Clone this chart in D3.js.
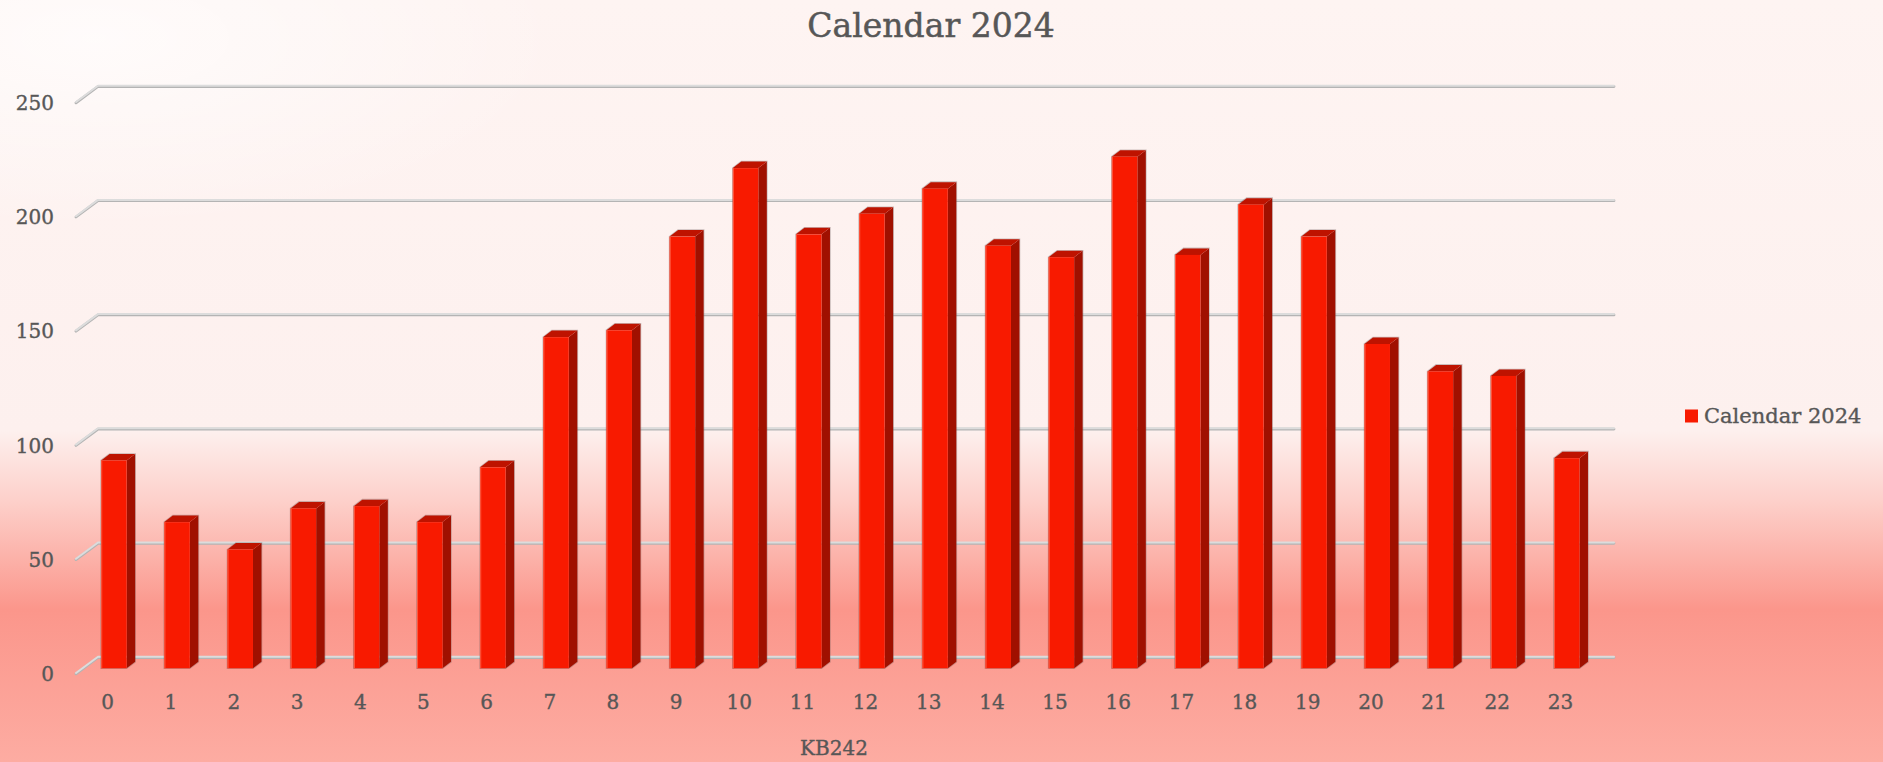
<!DOCTYPE html>
<html>
<head>
<meta charset="utf-8">
<script src="https://cdn.jsdelivr.net/npm/d3@7"></script>
<style>
  html, body { margin: 0; padding: 0; background: #fef3f1; }
  svg { display: block; }
  text { font-family: "DejaVu Serif", serif; fill: #575757; stroke: #575757; stroke-width: 0.35px; }
</style>
</head>
<body>
<script>
const categories = ["0","1","2","3","4","5","6","7","8","9","10","11","12","13","14","15","16","17","18","19","20","21","22","23"];
const values = [91,64,52,70,71,64,88,145,148,189,219,190,199,210,185,180,224,181,203,189,142,130,128,92];
const yTicks = [0,50,100,150,200,250];
const seriesName = "Calendar 2024";
const chartTitle = "Calendar 2024";
const xAxisTitle = "KB242";

const W = 1883, H = 762;
const svg = d3.select("body").append("svg").attr("width", W).attr("height", H);
const defs = svg.append("defs");

const bg = defs.append("linearGradient").attr("id","bg").attr("x1",0).attr("y1",0).attr("x2",0).attr("y2",1);
[[0,"#fef4f2"],[0.565,"#fdf0ee"],[0.66,"#fdcfc9"],[0.8,"#fb968b"],[1,"#fdaca2"]].forEach(s=>bg.append("stop").attr("offset",s[0]).attr("stop-color",s[1]));
const glow = defs.append("radialGradient").attr("id","glow").attr("cx",0.05).attr("cy",0.05).attr("r",0.25);
glow.append("stop").attr("offset",0).attr("stop-color","#ffffff").attr("stop-opacity",0.7);
glow.append("stop").attr("offset",1).attr("stop-color","#ffffff").attr("stop-opacity",0);

svg.append("rect").attr("width",W).attr("height",H).attr("fill","url(#bg)");
svg.append("rect").attr("width",W).attr("height",H).attr("fill","url(#glow)");

// back-wall scales
const xb = d3.scaleBand().domain(categories).range([98, 1614]).padding(0);
const yb = d3.scaleLinear().domain([0, 250]).range([656.7, 85.7]);

// depth offsets relative to back wall
const floorFront = {dx:-22, dy:16.3};
const barFront = {dx:-15.7, dy:11.6};
const barBack = {dx:-7.2, dy:5.1};
const barW = xb.bandwidth() * 0.404;

// gridlines
const grid = svg.append("g");
yTicks.forEach(t => {
  const y = yb(t);
  const pts = [[98 + floorFront.dx, y + floorFront.dy],[98, y],[1614, y]];
  grid.append("path").attr("d", d3.line()(pts.map(p=>[p[0], p[1]+0.8]))).attr("fill","none")
    .attr("stroke","#b4b4b4").attr("stroke-width",2.8).attr("stroke-linecap","round").attr("stroke-linejoin","round");
  grid.append("path").attr("d", d3.line()(pts)).attr("fill","none")
    .attr("stroke","#dcdcdc").attr("stroke-width",2).attr("stroke-linecap","round").attr("stroke-linejoin","round");
});

// bars
const bars = svg.append("g");
categories.forEach((c, i) => {
  const v = values[i];
  const cx = xb(c) + xb.bandwidth()/2;
  const fx0 = cx - barW/2 + barFront.dx, fx1 = cx + barW/2 + barFront.dx;
  const fyTop = yb(v) + barFront.dy, fyBot = yb(0) + barFront.dy;
  const ddx = barBack.dx - barFront.dx, ddy = barBack.dy - barFront.dy;
  bars.append("path")
    .attr("d", `M${fx0},${fyBot} L${fx0},${fyTop} L${fx0+ddx},${fyTop+ddy} L${fx1+ddx},${fyTop+ddy} L${fx1+ddx},${fyBot+ddy} L${fx1},${fyBot} Z`)
    .attr("fill","none").attr("stroke","rgba(110,90,90,0.35)").attr("stroke-width",1.6);
  bars.append("path")
    .attr("d", `M${fx1},${fyTop} L${fx1+ddx},${fyTop+ddy} L${fx1+ddx},${fyBot+ddy} L${fx1},${fyBot} Z`)
    .attr("fill","#a01000");
  bars.append("path")
    .attr("d", `M${fx0},${fyTop} L${fx0+ddx},${fyTop+ddy} L${fx1+ddx},${fyTop+ddy} L${fx1},${fyTop} Z`)
    .attr("fill","#be1300");
  bars.append("rect").attr("x",fx0).attr("y",fyTop).attr("width",fx1-fx0).attr("height",fyBot-fyTop)
    .attr("fill","#f81a00");
  bars.append("line").attr("x1",fx0+0.6).attr("x2",fx0+0.6).attr("y1",fyTop).attr("y2",fyBot)
    .attr("stroke","#ff5a40").attr("stroke-width",1);
});

// y tick labels
svg.append("g").selectAll("text").data(yTicks).join("text")
  .attr("x", 54).attr("y", d => yb(d) + floorFront.dy + 1)
  .attr("text-anchor","end").attr("dominant-baseline","central")
  .attr("font-size", 20).text(d => d);

// x tick labels
svg.append("g").selectAll("text").data(categories).join("text")
  .attr("x", d => xb(d) + xb.bandwidth()/2 + floorFront.dx)
  .attr("y", 702)
  .attr("text-anchor","middle").attr("dominant-baseline","central")
  .attr("font-size", 20).text(d => d);

// axis title
svg.append("text").attr("x", 834).attr("y", 748).attr("text-anchor","middle")
  .attr("dominant-baseline","central").attr("font-size", 20).text(xAxisTitle);

// chart title
svg.append("text").attr("x", 931).attr("y", 37).attr("text-anchor","middle")
  .attr("font-size", 33).style("stroke-width","0.5px").text(chartTitle);

// legend
svg.append("rect").attr("x",1685).attr("y",409.5).attr("width",13).attr("height",13).attr("fill","#f81a00");
svg.append("text").attr("x",1704).attr("y",422.5).attr("font-size",21).text(seriesName);
</script>
</body>
</html>
